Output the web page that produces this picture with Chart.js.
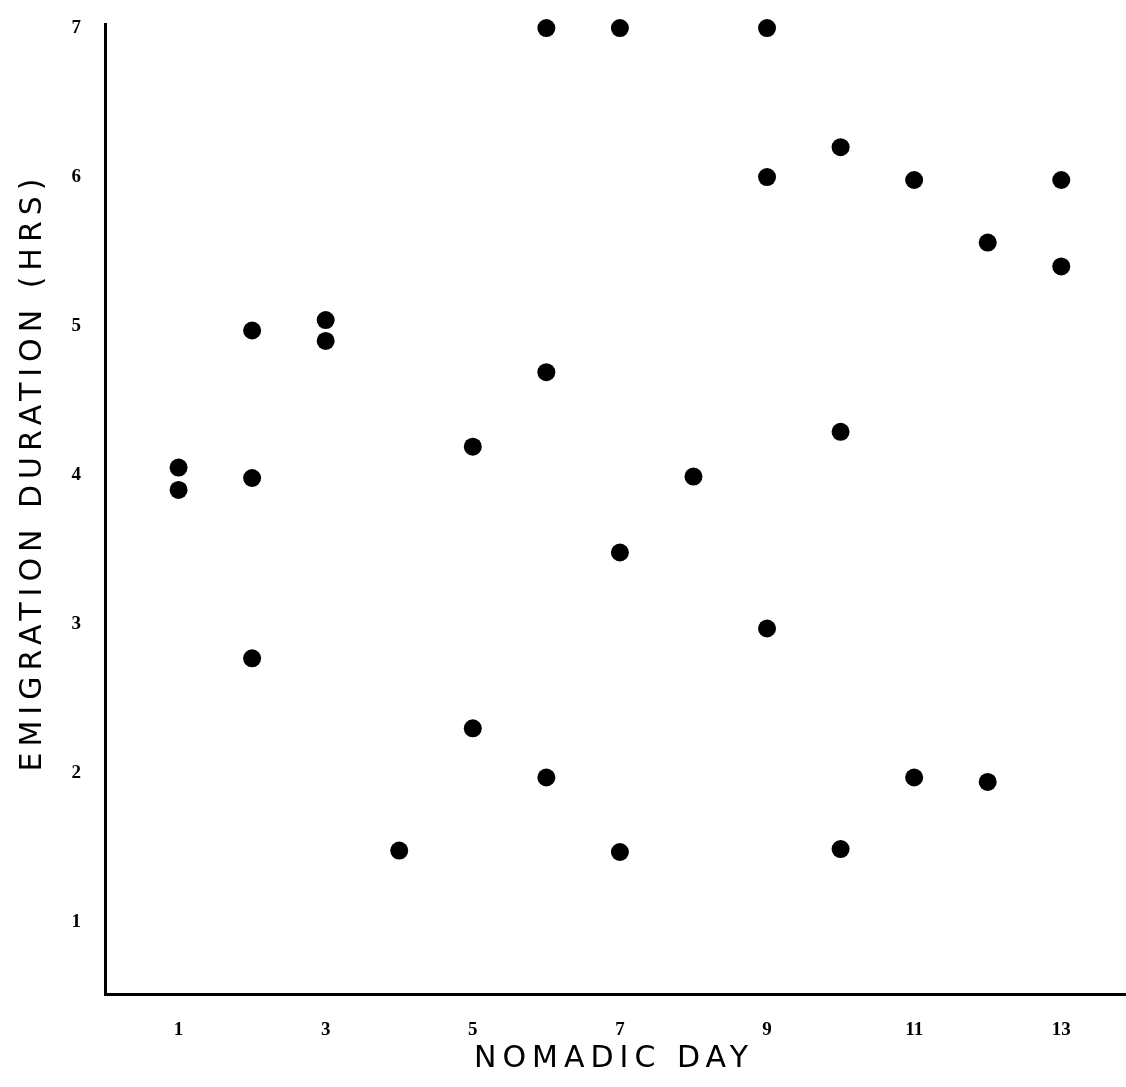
<!DOCTYPE html>
<html>
<head>
<meta charset="utf-8">
<script src="https://cdn.jsdelivr.net/npm/chart.js@4/dist/chart.umd.min.js"></script>
<style>
  html, body { margin: 0; padding: 0; background: #fff; }
  #wrap { width: 1126px; height: 1087px; position: relative; }
</style>
</head>
<body>
<div id="wrap"><canvas id="c" width="1126" height="1087"></canvas></div>
<script>
// Data
const nomadicDay = [1, 1, 2, 2, 2, 3, 3, 4, 5, 5, 6, 6, 6, 7, 7, 7, 8, 9, 9, 9, 10, 10, 10, 11, 11, 12, 12, 13, 13];
const durationHrs = [4.05, 3.9, 4.97, 3.98, 2.77, 5.04, 4.9, 1.48, 4.19, 2.3, 7.0, 4.69, 1.97, 7.0, 3.48, 1.47, 3.99, 7.0, 6.0, 2.97, 6.2, 4.29, 1.49, 5.98, 1.97, 5.56, 1.94, 5.98, 5.4];
const xTickValues = [1, 3, 5, 7, 9, 11, 13];
const yTickValues = [1, 2, 3, 4, 5, 6, 7];
const xTitle = 'NOMADIC DAY';
const yTitle = 'EMIGRATION DURATION (HRS)';

const points = nomadicDay.map((d, i) => ({ x: d, y: durationHrs[i] }));

const tickFont = { family: 'Liberation Serif', size: 19, weight: 'bold' };

const titlePlugin = {
  id: 'axisTitles',
  afterDraw(chart) {
    const ctx = chart.ctx;
    ctx.save();
    ctx.fillStyle = '#000';
    ctx.font = '30px "DejaVu Sans"';
    ctx.letterSpacing = '6px';
    ctx.textBaseline = 'alphabetic';
    ctx.textAlign = 'center';
    ctx.fillText(xTitle, 614, 1067);
    ctx.translate(41, 472);
    ctx.rotate(-Math.PI / 2);
    ctx.fillText(yTitle, 0, 0);
    ctx.restore();
  }
};

new Chart(document.getElementById('c'), {
  type: 'scatter',
  data: {
    datasets: [{
      data: points,
      backgroundColor: '#000',
      borderColor: '#000',
      pointRadius: 9,
      pointHoverRadius: 9,
      borderWidth: 0
    }]
  },
  options: {
    responsive: false,
    animation: false,
    devicePixelRatio: 1,
    events: [],
    clip: false,
    layout: { autoPadding: false, padding: { top: 24, right: 0, left: 0, bottom: 0 } },
    plugins: { legend: { display: false }, tooltip: { enabled: false }, title: { display: false } },
    scales: {
      x: {
        type: 'linear',
        min: 0,
        max: 13.88,
        afterBuildTicks(scale) { scale.ticks = xTickValues.map(v => ({ value: v })); },
        afterFit(scale) {
          scale.height = 93;
          scale.paddingLeft = 0; scale.paddingRight = 0;
        },
        grid: { display: false, drawTicks: false },
        border: { display: true, color: '#000', width: 3 },
        ticks: {
          color: '#000',
          font: tickFont,
          padding: 25,
          maxRotation: 0,
          autoSkip: false,
          callback: v => String(v)
        }
      },
      y: {
        type: 'linear',
        min: 0.517,
        max: 7.027,
        afterBuildTicks(scale) { scale.ticks = yTickValues.map(v => ({ value: v })); },
        afterFit(scale) {
          scale.width = 105;
          scale.paddingTop = 0; scale.paddingBottom = 0;
        },
        grid: { display: false, drawTicks: false },
        border: { display: true, color: '#000', width: 3 },
        ticks: {
          color: '#000',
          font: tickFont,
          padding: 24,
          autoSkip: false,
          callback: v => String(v)
        }
      }
    }
  },
  plugins: [titlePlugin]
});
</script>
</body>
</html>
